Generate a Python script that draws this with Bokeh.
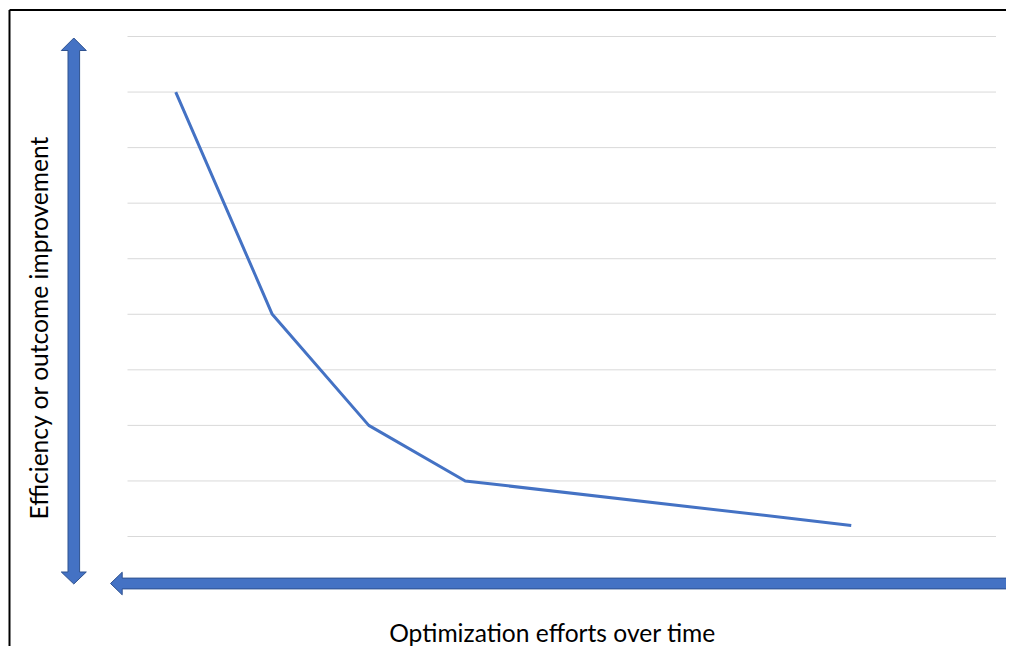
import math
from bokeh.plotting import figure
from bokeh.models import Range1d, Label, ColumnDataSource
from bokeh.embed import file_html
from bokeh.resources import INLINE

# ---- data ----
effort_steps = [1, 2, 3, 4, 8]
improvement = [8, 4, 2, 1, 0.2]
grid_levels = [0, 1, 2, 3, 4, 5, 6, 7, 8, 9]
x_min_cat, x_max_cat = 0.5, 9.5
x_label = "Optimization efforts over time"
y_label = "Efficiency or outcome improvement"

# ---- layout helpers (picture pixels -> data units) ----
W, H = 1006, 646
PAGE_X0, PAGE_Y0 = 0, 0
X_PX_PER_UNIT = (995.5 - 127.0) / 9.0
Y_PX_PER_UNIT = (536.0 - 36.0) / 9.0


def xd(px):
    return 0.5 + (px - 127.0) / X_PX_PER_UNIT


def yd(py):
    return (536.0 - py) / Y_PX_PER_UNIT


p = figure(width=W, height=H, output_backend="svg", toolbar_location=None,
           x_axis_location=None, y_axis_location=None, min_border=0,
           x_range=Range1d(xd(PAGE_X0), xd(PAGE_X0 + W)),
           y_range=Range1d(yd(PAGE_Y0 + H), yd(PAGE_Y0)))
p.outline_line_color = None
p.background_fill_color = "white"
p.border_fill_color = "white"
p.grid.visible = False

# gridlines
p.segment(x0=[x_min_cat] * len(grid_levels), x1=[x_max_cat] * len(grid_levels),
          y0=grid_levels, y1=grid_levels, line_color="#d9d9d9", line_width=1)

# border (top and left)
p.segment(x0=[xd(9), xd(9)], x1=[xd(9), xd(1030)],
          y0=[yd(9.5), yd(9.5)], y1=[yd(700), yd(9.5)],
          line_color="black", line_width=2)

# data line
src = ColumnDataSource(dict(x=effort_steps, y=improvement))
p.line("x", "y", source=src, line_color="#4472C4", line_width=3, line_join="round")

# vertical double arrow
cx, hw, HW = 73.3, 5.8, 12.5
t_tip, t_base, b_base, b_tip = 37.5, 50.0, 571.5, 583.5
v_pts = [(cx, t_tip), (cx + HW, t_base), (cx + hw, t_base), (cx + hw, b_base),
         (cx + HW, b_base), (cx, b_tip), (cx - HW, b_base), (cx - hw, b_base),
         (cx - hw, t_base), (cx - HW, t_base)]
# horizontal arrow (left head)
cy, hh, HH = 583.0, 5.4, 11.3
h_pts = [(110.0, cy), (121.7, cy - HH), (121.7, cy - hh), (1030.0, cy - hh),
         (1030.0, cy + hh), (121.7, cy + hh), (121.7, cy + HH)]
p.patches(xs=[[xd(a) for a, b in v_pts], [xd(a) for a, b in h_pts]],
          ys=[[yd(b) for a, b in v_pts], [yd(b) for a, b in h_pts]],
          fill_color="#4472C4", line_color="#2F528F", line_width=1)

# axis titles
p.add_layout(Label(x=xd(38), y=yd(327), text=y_label, angle=math.pi / 2,
                   text_align="center", text_baseline="middle",
                   text_font="Lato", text_font_size="24.6px", text_color="black"))
p.add_layout(Label(x=xd(552), y=yd(632), text=x_label,
                   text_align="center", text_baseline="middle",
                   text_font="Lato", text_font_size="24.6px", text_color="black"))

open("out.html", "w").write(file_html(p, INLINE))
